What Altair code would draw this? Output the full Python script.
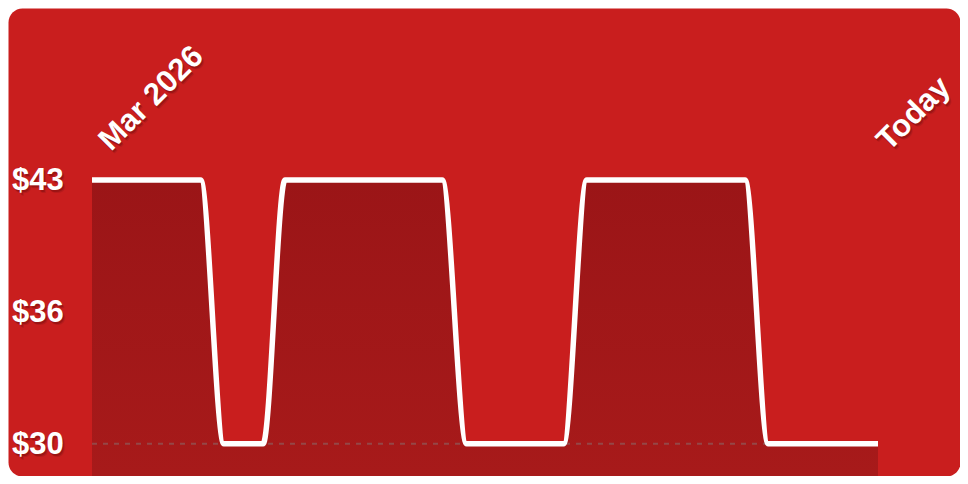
import math
import altair as alt
import pandas as pd

# ---- data ----
days = [0, 4.7, 5.7, 7.4, 8.35, 15.15, 16.2, 20.4, 21.4, 28.25, 29.25, 34]
prices = [43, 43, 30, 30, 43, 43, 30, 30, 43, 43, 30, 30]
y_label_values = [43, 36.5, 30]
y_label_texts = ["$43", "$36", "$30"]
x_label_days = [0, 34]
x_label_texts = ["Mar 2026", "Today"]
baseline_price = 30

# ---- layout ----
W, H = 952, 468
x_dom = [-3.634, 37.547]
y_dom = [28.408, 51.479]
BG = "#C91E1E"
FONT = "Liberation Sans"
FS = 31

series = pd.DataFrame({"day": days, "price": prices})
ylab = pd.DataFrame({"v": y_label_values, "t": y_label_texts})
xlab = pd.DataFrame({"day": x_label_days, "t": x_label_texts})
rule_df = pd.DataFrame({"d0": [days[0]], "d1": [days[-1]], "p": [baseline_price]})

xs = alt.Scale(domain=x_dom, nice=False, zero=False)
ys = alt.Scale(domain=y_dom, nice=False, zero=False)

grad = alt.Gradient(
    gradient="linear",
    stops=[alt.GradientStop(color="#9B1517", offset=0),
           alt.GradientStop(color="#A71A1A", offset=1)],
    x1=1, x2=1, y1=0, y2=1,
)

area = alt.Chart(series).mark_area(interpolate="monotone", color=grad).encode(
    x=alt.X("day:Q", scale=xs, axis=None),
    y=alt.Y("price:Q", scale=ys, axis=None),
    y2=alt.datum(y_dom[0]),
)

rule = alt.Chart(rule_df).mark_rule(
    strokeDash=[5, 6], color="#808080", opacity=0.45, strokeWidth=2
).encode(
    x=alt.X("d0:Q", scale=xs, axis=None),
    x2="d1:Q",
    y=alt.Y("p:Q", scale=ys, axis=None),
)

line = alt.Chart(series).mark_line(
    interpolate="monotone", color="white", strokeWidth=5.5,
    strokeCap="butt", strokeJoin="round"
).encode(
    x=alt.X("day:Q", scale=xs, axis=None),
    y=alt.Y("price:Q", scale=ys, axis=None),
)


def ylabels(color, opacity, sx, sy):
    return alt.Chart(ylab).mark_text(
        color=color, opacity=opacity, dx=sx, dy=1.5 + sy, font=FONT,
        fontWeight="bold", fontSize=FS, align="left", baseline="middle"
    ).encode(
        x=alt.value(4),
        y=alt.Y("v:Q", scale=ys, axis=None),
        text="t:N",
    )


def xlabel(label, color, opacity, sx, sy):
    # screen offset -> rotated frame (angle -45deg)
    c = math.cos(math.radians(45))
    dx = c * sx - c * sy
    dy = c * sx + c * sy
    return alt.Chart(xlab).transform_filter(
        alt.datum.t == label
    ).mark_text(
        color=color, opacity=opacity, dx=dx, dy=dy, font=FONT,
        fontWeight="bold", fontSize=FS, align="left", baseline="alphabetic",
        angle=315
    ).encode(
        x=alt.X("day:Q", scale=xs, axis=None),
        y=alt.value(144),
        text="t:N",
    )


XOFF = {"Mar 2026": 19, "Today": 11}
layers = [area, rule, line]
for (ox, oy, op) in [(1, 2, 0.22), (2, 3, 0.12)]:
    layers.append(ylabels("#3a0000", op, ox, oy))
    for lab in x_label_texts:
        layers.append(xlabel(lab, "#3a0000", op, XOFF[lab] + ox, oy))
layers.append(ylabels("white", 1, 0, 0))
for lab in x_label_texts:
    layers.append(xlabel(lab, "white", 1, XOFF[lab], 0))

chart = alt.layer(*layers).properties(
    width=W, height=H,
    autosize=alt.AutoSizeParams(type="none"),
    padding=0,
    background="white",
).configure_view(
    fill=BG, cornerRadius=14, strokeOpacity=0
)

chart.save("out.html", embed_options={"renderer": "svg", "actions": False})
